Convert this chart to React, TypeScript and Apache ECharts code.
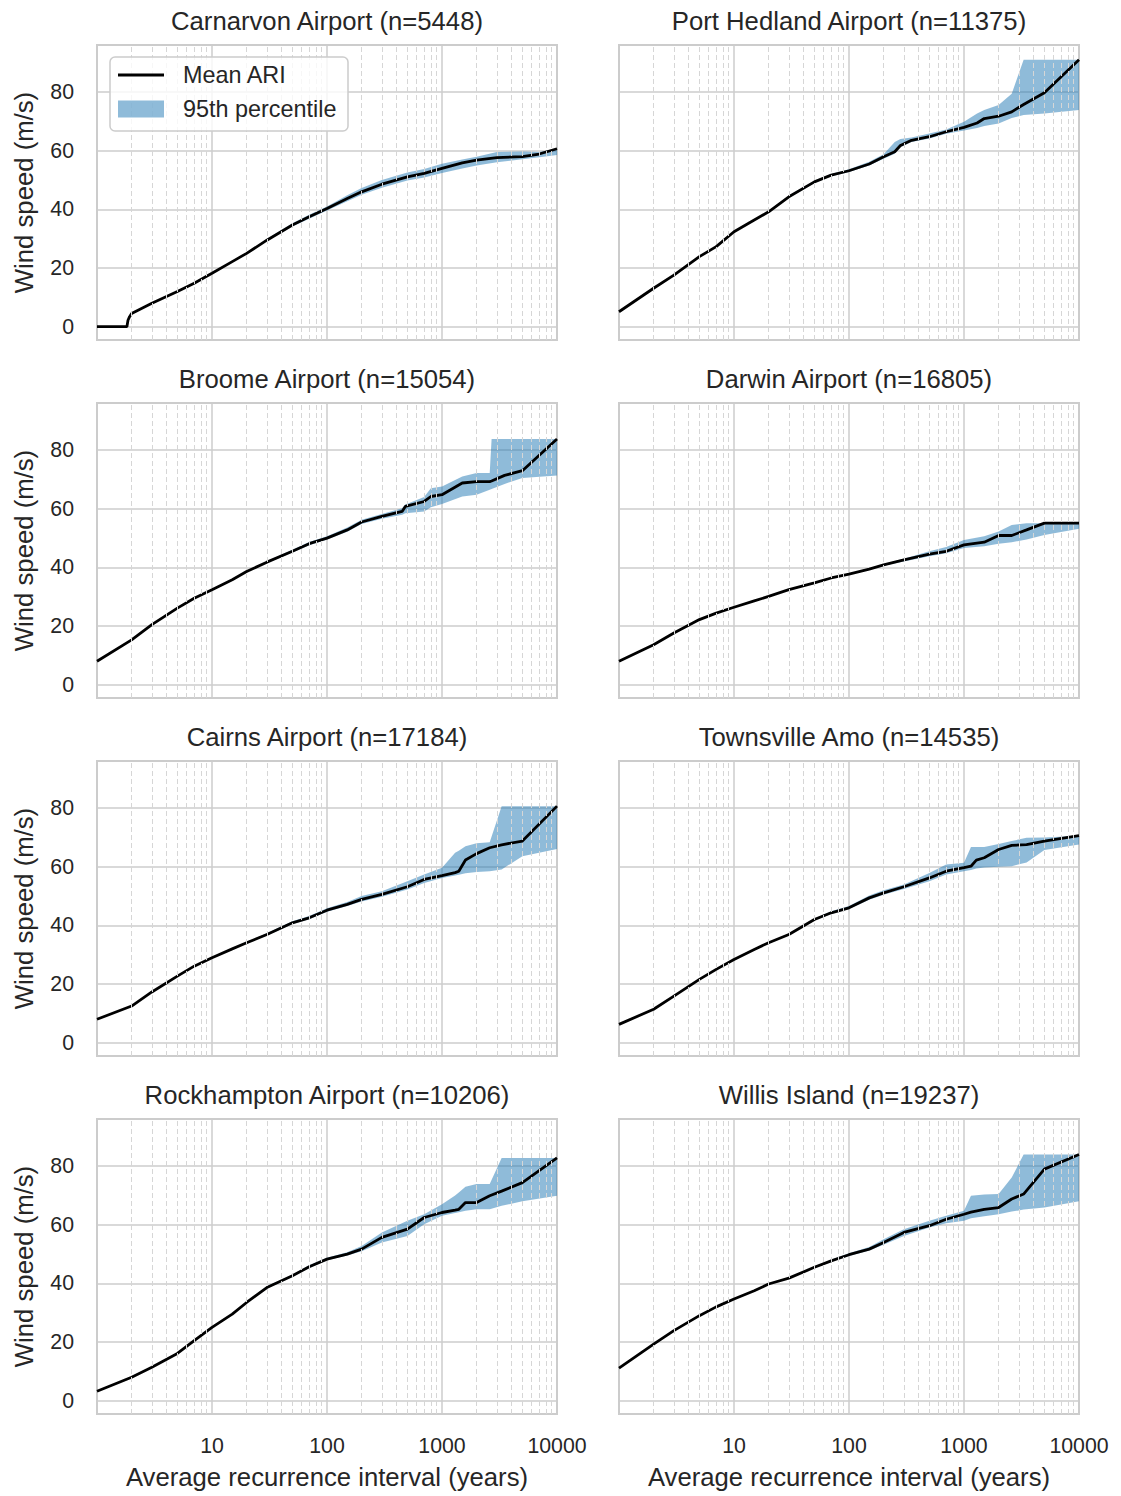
import React, { useEffect, useRef } from 'react';
import * as echarts from 'echarts';

// ---------- Data ----------
const carnarvonAri = [1, 1.82, 1.86, 1.92, 2, 3, 5, 7, 10, 15, 20, 30, 50, 70, 100, 150, 200, 300, 500, 700, 1000, 1500, 2000, 3000, 5000, 7000, 10000];
const carnarvonMean = [0, 0, 2.2, 3.4, 4.5, 8, 12, 14.8, 18.2, 22.2, 25, 29.5, 34.7, 37.5, 40.3, 43.7, 46, 48.6, 51.1, 52.3, 54, 55.9, 56.8, 57.7, 58, 58.9, 60.7];
const carnarvonLo = [0, 0, 2.2, 3.4, 4.5, 8, 12, 14.8, 18.2, 22.2, 25, 29.2, 34.2, 36.8, 39.6, 42.8, 45.0, 47.4, 49.9, 50.9, 52.4, 54.0, 55.0, 56.1, 57.1, 57.8, 58.6];
const carnarvonHi = [0, 0, 2.2, 3.4, 4.5, 8, 12, 14.8, 18.2, 22.3, 25.2, 29.9, 35.3, 38.2, 41.0, 44.8, 47.3, 50.0, 52.6, 53.8, 55.6, 57.0, 58.0, 59.6, 59.8, 59.6, 60.7];

const portHedlandAri = [1, 2, 3, 5, 7, 10, 15, 20, 30, 50, 70, 100, 150, 200, 250, 280, 350, 500, 700, 1000, 1300, 1500, 2000, 2600, 3300, 5000, 10000];
const portHedlandMean = [5.1, 13.1, 17.6, 23.9, 27.3, 32.4, 36.4, 39.2, 44.3, 49.4, 51.7, 53.2, 55.5, 58, 59.7, 61.8, 63.6, 64.8, 66.5, 68, 69.5, 71, 71.8, 73.3, 75.8, 79.8, 91.1];
const portHedlandLo = [5.1, 13.1, 17.6, 23.9, 27.3, 32.4, 36.2, 39.0, 44.0, 49.0, 51.3, 52.8, 55.0, 57.3, 59.0, 61.2, 63.0, 64.2, 65.8, 66.9, 67.8, 68.5, 69.3, 71.2, 72.2, 72.7, 73.9];
const portHedlandHi = [5.1, 13.1, 17.6, 23.9, 27.3, 32.4, 36.6, 39.5, 44.7, 49.8, 52.1, 53.7, 56.3, 58.8, 63.0, 64.0, 64.5, 65.9, 67.3, 69.9, 72.7, 73.9, 75.6, 79.5, 91.1, 91.1, 91.1];

const broomeAri = [1, 2, 3, 5, 7, 10, 15, 20, 30, 50, 70, 100, 150, 200, 300, 450, 480, 700, 800, 1000, 1500, 2000, 2600, 2700, 3500, 5000, 10000];
const broomeMean = [8.0, 15.3, 20.5, 26.1, 29.5, 32.4, 35.8, 38.6, 41.8, 45.5, 48.1, 50, 52.8, 55.5, 57.4, 59.1, 60.8, 62.5, 64.2, 64.8, 68.8, 69.3, 69.3, 69.5, 71.4, 73, 83.8];
const broomeLo = [8.0, 15.3, 20.5, 26.1, 29.5, 32.4, 35.6, 38.4, 41.5, 45.1, 47.6, 49.5, 52.2, 54.8, 56.6, 58.0, 58.5, 59.1, 60.5, 61.6, 64.2, 64.8, 66.5, 66.8, 68.5, 70.5, 71.4];
const broomeHi = [8.0, 15.3, 20.5, 26.1, 29.5, 32.4, 36.0, 38.8, 42.1, 46.0, 48.7, 50.6, 53.6, 56.3, 58.2, 60.2, 61.5, 64.0, 67.0, 67.6, 71.0, 72.2, 72.2, 83.8, 83.8, 83.8, 83.8];

const darwinAri = [1, 2, 3, 5, 7, 10, 15, 20, 30, 50, 70, 100, 150, 200, 300, 500, 700, 1000, 1500, 2000, 2600, 3500, 5000, 10000];
const darwinMean = [8.0, 13.6, 17.6, 22.2, 24.4, 26.4, 28.6, 30.1, 32.4, 34.7, 36.4, 37.7, 39.4, 40.9, 42.6, 44.5, 45.5, 47.7, 48.6, 50.9, 50.9, 52.8, 55.1, 55.1];
const darwinLo = [8.0, 13.6, 17.6, 22.2, 24.4, 26.4, 28.6, 30.1, 32.4, 34.7, 36.4, 37.7, 39.2, 40.6, 42.0, 43.8, 44.8, 46.6, 47.2, 48.1, 48.6, 49.5, 51.1, 53.2];
const darwinHi = [8.0, 13.6, 17.6, 22.2, 24.4, 26.4, 28.6, 30.1, 32.4, 34.7, 36.4, 37.7, 39.6, 41.2, 43.0, 45.5, 47.0, 49.4, 50.6, 52.3, 54.5, 55.1, 55.1, 55.1];

const cairnsAri = [1, 2, 3, 5, 7, 10, 15, 20, 30, 50, 70, 100, 150, 200, 300, 500, 700, 1000, 1300, 1400, 1600, 2000, 2600, 3300, 5000, 10000];
const cairnsMean = [8.0, 12.5, 17.3, 22.7, 26.1, 29, 32, 34.1, 36.9, 40.9, 42.6, 45.2, 47.2, 48.9, 50.6, 53.2, 55.7, 57, 58.0, 58.5, 62.3, 64.5, 66.5, 67.5, 68.8, 80.7];
const cairnsLo = [8.0, 12.5, 17.3, 22.7, 26.1, 29, 31.8, 33.9, 36.6, 40.5, 42.1, 44.7, 46.6, 48.2, 49.8, 52.3, 54.5, 56.2, 57.0, 57.3, 57.8, 58.2, 58.5, 59.1, 63.6, 66.1];
const cairnsHi = [8.0, 12.5, 17.3, 22.7, 26.1, 29, 32.2, 34.3, 37.3, 41.4, 43.2, 45.9, 48.0, 50.0, 51.7, 55.1, 57.4, 59.7, 64.8, 65.5, 67.0, 68.0, 68.4, 80.7, 80.7, 80.7];

const townsvilleAri = [1, 2, 3, 5, 7, 10, 15, 20, 30, 50, 70, 100, 150, 200, 300, 500, 700, 1000, 1150, 1280, 1500, 2000, 2600, 3500, 5000, 10000];
const townsvilleMean = [6.25, 11.4, 15.9, 21.6, 25, 28.4, 31.8, 34.1, 36.9, 42, 44.3, 46, 49.4, 51.1, 53.2, 56.2, 58.5, 59.7, 60.2, 62.3, 63.1, 65.9, 67.3, 67.6, 68.8, 70.6];
const townsvilleLo = [6.25, 11.4, 15.9, 21.6, 25, 28.4, 31.8, 34.1, 36.7, 41.7, 43.9, 45.6, 48.8, 50.5, 52.4, 55.1, 57.4, 58.5, 58.9, 59.4, 59.8, 60.0, 60.2, 61.5, 65.7, 67.6];
const townsvilleHi = [6.25, 11.4, 15.9, 21.6, 25, 28.4, 31.8, 34.1, 37.1, 42.3, 44.8, 46.6, 50.2, 52.0, 54.0, 57.9, 60.8, 61.4, 66.8, 66.8, 66.8, 67.8, 68.8, 69.9, 70.0, 70.6];

const rockhamptonAri = [1, 2, 3, 5, 7, 10, 15, 20, 30, 50, 70, 100, 150, 200, 300, 500, 700, 1000, 1300, 1400, 1600, 2000, 2600, 3300, 5000, 10000];
const rockhamptonMean = [3.2, 8.0, 11.4, 16.1, 20.5, 25, 29.5, 33.5, 38.6, 42.6, 45.7, 48.3, 50, 51.7, 55.7, 58.5, 62.5, 64.2, 65.0, 65.3, 67.6, 67.6, 69.9, 71.5, 74.4, 82.8];
const rockhamptonLo = [3.2, 8.0, 11.4, 16.1, 20.5, 25, 29.3, 33.2, 38.3, 42.3, 45.3, 47.9, 49.5, 51.0, 54.0, 56.2, 60.2, 63.1, 64.0, 64.3, 64.8, 65.3, 65.3, 66.5, 68.0, 69.9];
const rockhamptonHi = [3.2, 8.0, 11.4, 16.1, 20.5, 25, 29.7, 33.8, 39.0, 43.0, 46.2, 48.8, 50.6, 52.8, 57.4, 61.4, 63.6, 67.0, 70.0, 71.0, 73.0, 73.9, 73.9, 82.8, 82.8, 82.8];

const willisAri = [1, 2, 3, 5, 7, 10, 15, 20, 30, 50, 70, 100, 150, 200, 300, 500, 700, 1000, 1150, 1500, 2000, 2600, 3300, 5000, 10000];
const willisMean = [11.1, 19.3, 23.9, 29, 32, 34.7, 37.5, 39.8, 41.8, 45.5, 47.7, 49.8, 51.7, 54, 57.4, 59.7, 61.9, 63.6, 64.3, 65.3, 65.9, 68.8, 70.5, 79, 84.0];
const willisLo = [11.1, 19.3, 23.9, 29, 32, 34.7, 37.5, 39.8, 41.6, 45.2, 47.4, 49.4, 51.2, 53.2, 56.2, 59.1, 60.5, 61.4, 62.2, 62.9, 63.6, 64.5, 65.2, 65.9, 68.0];
const willisHi = [11.1, 19.3, 23.9, 29, 32, 34.7, 37.5, 39.8, 42.0, 45.8, 48.1, 50.3, 52.4, 55.1, 58.5, 61.4, 63.1, 64.8, 69.9, 70.3, 70.5, 76.1, 84.0, 84.0, 84.0];

const stationTitles = [
  'Carnarvon Airport (n=5448)',
  'Port Hedland Airport (n=11375)',
  'Broome Airport (n=15054)',
  'Darwin Airport (n=16805)',
  'Cairns Airport (n=17184)',
  'Townsville Amo (n=14535)',
  'Rockhampton Airport (n=10206)',
  'Willis Island (n=19237)',
];
const stationAri = [carnarvonAri, portHedlandAri, broomeAri, darwinAri, cairnsAri, townsvilleAri, rockhamptonAri, willisAri];
const stationMean = [carnarvonMean, portHedlandMean, broomeMean, darwinMean, cairnsMean, townsvilleMean, rockhamptonMean, willisMean];
const stationLo = [carnarvonLo, portHedlandLo, broomeLo, darwinLo, cairnsLo, townsvilleLo, rockhamptonLo, willisLo];
const stationHi = [carnarvonHi, portHedlandHi, broomeHi, darwinHi, cairnsHi, townsvilleHi, rockhamptonHi, willisHi];

const decades = [1, 10, 100, 1000];
const minorSteps = [2, 3, 4, 5, 6, 7, 8, 9];

const FONT = '"Liberation Sans", Arial, Helvetica, sans-serif';
const TEXT = '#262626';
const GRID = '#cccccc';
const BAND = 'rgba(31,119,180,0.5)';

export default function App() {
  const ref = useRef<HTMLDivElement>(null);

  useEffect(() => {
    if (!ref.current) return;
    const chart = echarts.init(ref.current, null, { renderer: 'svg' });

    const minorTicks: number[] = [];
    decades.forEach((d) => minorSteps.forEach((s) => minorTicks.push(d * s)));

    const grids: any[] = [];
    const xAxes: any[] = [];
    const yAxes: any[] = [];
    const series: any[] = [];
    const graphics: any[] = [];

    for (let k = 0; k < 8; k++) {
      const col = k % 2;
      const row = Math.floor(k / 2);
      const left = col === 0 ? 97 : 619;
      const top = 45 + 358 * row;
      const width = 460;
      const height = 295;
      grids.push({
        left, top, width, height,
        show: true, borderColor: GRID, borderWidth: 2, backgroundColor: '#ffffff',
        containLabel: false,
      });
      const isBottom = row === 3;
      xAxes.push({
        type: 'log', logBase: 10, gridIndex: k, min: 1, max: 10000,
        axisLine: { show: false }, axisTick: { show: false },
        splitLine: { show: true, lineStyle: { color: GRID, width: 1.5 } },
        axisLabel: {
          show: isBottom, margin: 21, fontSize: 21.3, color: TEXT, fontFamily: FONT,
          formatter: (v: number) => (v < 5 ? '' : String(Math.round(v))),
        },
        name: isBottom ? 'Average recurrence interval (years)' : '',
        nameLocation: 'middle', nameGap: 50,
        nameTextStyle: { fontSize: 25.7, color: TEXT, fontFamily: FONT },
      });
      yAxes.push({
        type: 'value', gridIndex: k, min: -4.55, max: 96.1,
        splitNumber: 5, minInterval: 20, maxInterval: 20,
        axisLine: { show: false }, axisTick: { show: false },
        splitLine: { show: true, lineStyle: { color: GRID, width: 1.5 } },
        axisLabel: {
          show: col === 0, margin: 23, fontSize: 21.3, color: TEXT, fontFamily: FONT,
          formatter: (v: number) => (Math.abs(v % 20) < 1e-6 ? String(Math.round(v)) : ''),
        },
        name: col === 0 ? 'Wind speed (m/s)' : '',
        nameLocation: 'middle', nameGap: 60, nameRotate: 90,
        nameTextStyle: { fontSize: 25.7, color: TEXT, fontFamily: FONT },
      });

      const ari = stationAri[k];
      const lo = stationLo[k];
      const hi = stationHi[k];
      const mean = stationMean[k];

      // invisible carrier for dashed minor gridlines
      series.push({
        type: 'line', name: 'minor-grid', xAxisIndex: k, yAxisIndex: k,
        symbol: 'none', silent: true, z: 1,
        lineStyle: { opacity: 0, width: 0 },
        data: [],
        markLine: {
          silent: true, symbol: ['none', 'none'], animation: false,
          label: { show: false },
          lineStyle: { type: [5, 3], color: '#d6d6d6', width: 1 },
          emphasis: { disabled: true },
          data: minorTicks.map((v) => ({ xAxis: v })),
        },
      });
      // 95th percentile band as a single polygon through the axis scales
      series.push({
        type: 'custom', name: '95th percentile', xAxisIndex: k, yAxisIndex: k,
        silent: true, z: 2,
        itemStyle: { color: BAND },
        encode: { x: 0, y: [1, 2] },
        data: ari.map((a, i) => [a, lo[i], hi[i]]),
        renderItem: (params: any, api: any) => {
          if (params.dataIndex !== 0) return null;
          const pts: number[][] = [];
          for (let i = 0; i < ari.length; i++) pts.push(api.coord([ari[i], hi[i]]));
          for (let i = ari.length - 1; i >= 0; i--) pts.push(api.coord([ari[i], lo[i]]));
          return { type: 'polygon', shape: { points: pts }, style: { fill: BAND, stroke: 'none' } };
        },
      });
      series.push({
        type: 'line', name: 'Mean ARI', xAxisIndex: k, yAxisIndex: k,
        symbol: 'none', silent: true, z: 3,
        lineStyle: { color: '#000000', width: 2.8 },
        itemStyle: { color: '#000000' },
        data: ari.map((a, i) => [a, mean[i]]),
      });

      graphics.push({
        type: 'text', x: left + width / 2, y: 21 + 358 * row, silent: true,
        style: {
          text: stationTitles[k], fill: TEXT, fontSize: 25.7, fontFamily: FONT,
          textAlign: 'center', textVerticalAlign: 'middle', align: 'center', verticalAlign: 'middle',
        },
      });
    }

    // legend frame
    graphics.push({
      type: 'rect', z: 50, silent: true,
      shape: { x: 110, y: 57, width: 238, height: 74, r: 5 },
      style: { fill: 'rgba(255,255,255,0.8)', stroke: '#cccccc', lineWidth: 1.5 },
    });

    const legendText = { fontSize: 23.4, color: TEXT, fontFamily: FONT, lineHeight: 24, padding: [0, 0, 0, 14] };

    chart.setOption({
      animation: false,
      backgroundColor: '#ffffff',
      grid: grids,
      xAxis: xAxes,
      yAxis: yAxes,
      series,
      graphic: graphics,
      legend: [
        {
          show: true, orient: 'vertical', left: 118, top: 63, z: 60,
          selectedMode: false, padding: 0,
          data: [{ name: 'Mean ARI', icon: 'rect', itemStyle: { color: '#000000', borderWidth: 0 } }],
          itemWidth: 46, itemHeight: 2.8,
          textStyle: legendText,
        },
        {
          show: true, orient: 'vertical', left: 118, top: 97, z: 60,
          selectedMode: false, padding: 0,
          data: [{ name: '95th percentile', icon: 'rect', itemStyle: { color: BAND, borderWidth: 0 } }],
          itemWidth: 46, itemHeight: 17,
          textStyle: legendText,
        },
      ],
    });

    return () => chart.dispose();
  }, []);

  return (
    <div
      ref={ref}
      style={{ position: 'absolute', left: 0, top: 0, width: 1121, height: 1496, background: '#ffffff' }}
    />
  );
}
